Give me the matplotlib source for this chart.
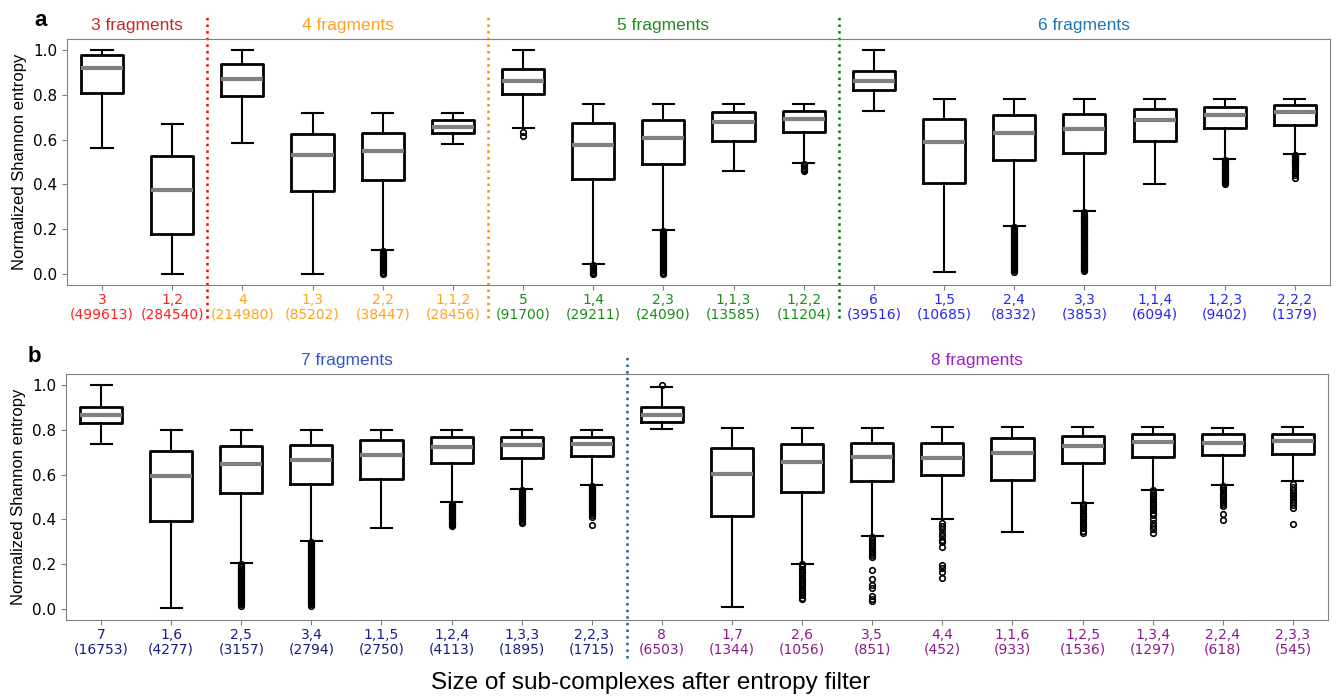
import matplotlib
matplotlib.use("Agg")
import matplotlib.pyplot as plt

# ---- panel a data: 3 to 6 fragments ----
labels_a = ["3", "1,2", "4", "1,3", "2,2", "1,1,2", "5", "1,4", "2,3", "1,1,3", "1,2,2",
            "6", "1,5", "2,4", "3,3", "1,1,4", "1,2,3", "2,2,2"]
counts_a = [499613, 284540, 214980, 85202, 38447, 28456, 91700, 29211, 24090, 13585, 11204,
            39516, 10685, 8332, 3853, 6094, 9402, 1379]
groups_a = [3, 3, 4, 4, 4, 4, 5, 5, 5, 5, 5, 6, 6, 6, 6, 6, 6, 6]
med_a = [0.92, 0.373, 0.870, 0.531, 0.550, 0.657, 0.861, 0.577, 0.608, 0.677, 0.693,
         0.861, 0.590, 0.629, 0.647, 0.686, 0.709, 0.723]
q1_a = [0.81, 0.177, 0.794, 0.371, 0.420, 0.629, 0.805, 0.422, 0.490, 0.593, 0.633,
        0.820, 0.405, 0.510, 0.540, 0.595, 0.654, 0.665]
q3_a = [0.98, 0.526, 0.937, 0.624, 0.630, 0.687, 0.915, 0.675, 0.689, 0.724, 0.730,
        0.906, 0.693, 0.709, 0.715, 0.739, 0.748, 0.753]
lo_a = [0.563, 0.0, 0.587, 0.0, 0.106, 0.581, 0.650, 0.042, 0.195, 0.460, 0.496,
        0.726, 0.006, 0.213, 0.279, 0.401, 0.514, 0.534]
hi_a = [1.0, 0.668, 1.0, 0.717, 0.717, 0.717, 1.0, 0.760, 0.760, 0.760, 0.760,
        1.0, 0.781, 0.781, 0.781, 0.781, 0.781, 0.781]
fliers_a = [
    [], [], [], [],
    [0.10, 0.095, 0.09, 0.085, 0.08, 0.075, 0.07, 0.065, 0.06, 0.055, 0.05, 0.045, 0.04,
     0.035, 0.03, 0.025, 0.02, 0.015, 0.01, 0.005, 0.0],
    [],
    [0.633, 0.615],
    [0.04, 0.035, 0.03, 0.025, 0.02, 0.015, 0.01, 0.005, 0.0],
    [0.19, 0.185, 0.18, 0.175, 0.17, 0.165, 0.16, 0.155, 0.15, 0.145, 0.14, 0.135, 0.13,
     0.125, 0.12, 0.115, 0.11, 0.105, 0.10, 0.095, 0.09, 0.085, 0.08, 0.075, 0.07, 0.065,
     0.06, 0.055, 0.05, 0.045, 0.04, 0.035, 0.03, 0.025, 0.02, 0.015, 0.01, 0.005, 0.0],
    [],
    [0.49, 0.485, 0.48, 0.475, 0.47, 0.465, 0.46],
    [],
    [],
    [0.21, 0.205, 0.20, 0.195, 0.19, 0.185, 0.18, 0.175, 0.17, 0.165, 0.16, 0.155, 0.15,
     0.145, 0.14, 0.135, 0.13, 0.125, 0.12, 0.115, 0.11, 0.105, 0.10, 0.095, 0.09, 0.085,
     0.08, 0.075, 0.07, 0.065, 0.06, 0.055, 0.05, 0.045, 0.04, 0.035, 0.03, 0.025, 0.02,
     0.015, 0.01],
    [0.275, 0.27, 0.265, 0.26, 0.255, 0.25, 0.245, 0.24, 0.235, 0.23, 0.225, 0.22, 0.215,
     0.21, 0.205, 0.20, 0.195, 0.19, 0.185, 0.18, 0.175, 0.17, 0.165, 0.16, 0.155, 0.15,
     0.145, 0.14, 0.135, 0.13, 0.125, 0.12, 0.115, 0.11, 0.105, 0.10, 0.095, 0.09, 0.085,
     0.08, 0.075, 0.07, 0.065, 0.06, 0.055, 0.05, 0.045, 0.04, 0.035, 0.03, 0.025, 0.02,
     0.015, 0.012],
    [],
    [0.51, 0.505, 0.50, 0.495, 0.49, 0.485, 0.48, 0.475, 0.47, 0.465, 0.46, 0.455, 0.45,
     0.445, 0.44, 0.435, 0.43, 0.425, 0.42, 0.415, 0.41, 0.405, 0.40],
    [0.53, 0.525, 0.52, 0.515, 0.51, 0.505, 0.50, 0.495, 0.49, 0.485, 0.48, 0.47, 0.46,
     0.45, 0.44, 0.43],
]

# ---- panel b data: 7 and 8 fragments ----
labels_b = ["7", "1,6", "2,5", "3,4", "1,1,5", "1,2,4", "1,3,3", "2,2,3",
            "8", "1,7", "2,6", "3,5", "4,4", "1,1,6", "1,2,5", "1,3,4", "2,2,4", "2,3,3"]
counts_b = [16753, 4277, 3157, 2794, 2750, 4113, 1895, 1715,
            6503, 1344, 1056, 851, 452, 933, 1536, 1297, 618, 545]
groups_b = [7] * 8 + [8] * 10
med_b = [0.866, 0.594, 0.648, 0.666, 0.688, 0.724, 0.734, 0.737,
         0.866, 0.602, 0.658, 0.681, 0.676, 0.698, 0.727, 0.744, 0.741, 0.749]
q1_b = [0.831, 0.391, 0.519, 0.560, 0.580, 0.651, 0.676, 0.684,
        0.835, 0.416, 0.522, 0.572, 0.599, 0.577, 0.652, 0.681, 0.689, 0.692]
q3_b = [0.903, 0.706, 0.728, 0.733, 0.755, 0.767, 0.770, 0.770,
        0.902, 0.718, 0.737, 0.741, 0.743, 0.762, 0.774, 0.780, 0.783, 0.782]
lo_b = [0.737, 0.006, 0.207, 0.303, 0.363, 0.480, 0.538, 0.556,
        0.805, 0.009, 0.201, 0.324, 0.403, 0.343, 0.474, 0.533, 0.554, 0.572]
hi_b = [1.0, 0.802, 0.802, 0.802, 0.802, 0.802, 0.802, 0.802,
        0.991, 0.808, 0.808, 0.811, 0.814, 0.814, 0.814, 0.814, 0.808, 0.814]
fliers_b = [
    [], [],
    [0.20, 0.195, 0.19, 0.185, 0.18, 0.175, 0.17, 0.165, 0.16, 0.155, 0.15, 0.145, 0.14,
     0.135, 0.13, 0.125, 0.12, 0.115, 0.11, 0.105, 0.10, 0.095, 0.09, 0.085, 0.08, 0.075,
     0.07, 0.065, 0.06, 0.055, 0.05, 0.045, 0.04, 0.035, 0.03, 0.025, 0.02, 0.012],
    [0.30, 0.295, 0.29, 0.285, 0.28, 0.275, 0.27, 0.265, 0.26, 0.255, 0.25, 0.245, 0.24,
     0.235, 0.23, 0.225, 0.22, 0.215, 0.21, 0.205, 0.20, 0.195, 0.19, 0.185, 0.18, 0.175,
     0.17, 0.165, 0.16, 0.155, 0.15, 0.145, 0.14, 0.135, 0.13, 0.125, 0.12, 0.115, 0.11,
     0.105, 0.10, 0.095, 0.09, 0.085, 0.08, 0.075, 0.07, 0.065, 0.06, 0.055, 0.05, 0.045,
     0.04, 0.035, 0.03, 0.025, 0.02, 0.012],
    [],
    [0.47, 0.465, 0.46, 0.455, 0.45, 0.445, 0.44, 0.435, 0.43, 0.425, 0.42, 0.415, 0.41,
     0.405, 0.40, 0.395, 0.39, 0.385, 0.38, 0.375, 0.37],
    [0.53, 0.525, 0.52, 0.515, 0.51, 0.505, 0.50, 0.495, 0.49, 0.485, 0.48, 0.475, 0.47,
     0.465, 0.46, 0.455, 0.45, 0.445, 0.44, 0.435, 0.43, 0.425, 0.42, 0.415, 0.41, 0.405,
     0.40, 0.395, 0.39, 0.385],
    [0.55, 0.545, 0.54, 0.535, 0.53, 0.525, 0.52, 0.515, 0.51, 0.505, 0.50, 0.495, 0.49,
     0.485, 0.48, 0.475, 0.47, 0.465, 0.46, 0.455, 0.45, 0.445, 0.44, 0.435, 0.43, 0.42,
     0.41, 0.375],
    [1.003],
    [],
    [0.20, 0.19, 0.18, 0.17, 0.16, 0.15, 0.14, 0.13, 0.12, 0.11, 0.10, 0.09, 0.08, 0.07,
     0.06, 0.05, 0.042],
    [0.32, 0.31, 0.30, 0.29, 0.28, 0.27, 0.26, 0.25, 0.24, 0.23, 0.175, 0.134, 0.107,
     0.092, 0.059, 0.042, 0.033],
    [0.383, 0.37, 0.355, 0.34, 0.325, 0.31, 0.297, 0.275, 0.196, 0.181, 0.166, 0.137],
    [],
    [0.47, 0.46, 0.45, 0.44, 0.43, 0.42, 0.41, 0.40, 0.39, 0.38, 0.37, 0.36, 0.35, 0.34],
    [0.53, 0.52, 0.51, 0.50, 0.49, 0.48, 0.47, 0.46, 0.45, 0.44, 0.43, 0.42, 0.40, 0.385,
     0.37, 0.355, 0.34],
    [0.55, 0.54, 0.53, 0.52, 0.51, 0.50, 0.49, 0.48, 0.47, 0.46, 0.426, 0.397],
    [0.557, 0.545, 0.53, 0.52, 0.51, 0.50, 0.49, 0.48, 0.465, 0.453, 0.379],
]

title_colors = {3: "#c62828", 4: "#ffa020", 5: "#228b22", 6: "#1f77b4",
                7: "#3355cc", 8: "#a020c8"}
tick_colors = {3: "#ff2020", 4: "#ffa31a", 5: "#1a8c1a", 6: "#2828f0",
               7: "#1a1a88", 8: "#8b1a8b"}
sep_colors = {3: "red", 4: "darkorange", 5: "green", 7: "#1f5f9f"}

fig = plt.figure(figsize=(13.36, 6.98), dpi=100)
ax_a = fig.add_axes([0.0501, 0.5917, 0.9454, 0.3524])
ax_b = fig.add_axes([0.0494, 0.1117, 0.9446, 0.3524])


def draw_panel(ax, labels, counts, groups, med, q1, q3, lo, hi, fliers, sep_ext, tsize):
    stats = []
    for i in range(len(labels)):
        stats.append(dict(med=med[i], q1=q1[i], q3=q3[i], whislo=lo[i], whishi=hi[i],
                          fliers=fliers[i], label=labels[i]))
    pos = list(range(1, len(labels) + 1))
    ax.bxp(stats, positions=pos, widths=0.6, showfliers=True,
           boxprops=dict(color="black", linewidth=2),
           whiskerprops=dict(color="black", linewidth=1.5),
           capprops=dict(color="black", linewidth=1.5),
           medianprops=dict(color="grey", linewidth=3),
           flierprops=dict(marker="o", markersize=4, markerfacecolor="none",
                           markeredgecolor="black", markeredgewidth=1.2))
    ax.set_xlim(0.5, len(labels) + 0.5)
    ax.set_ylim(-0.05, 1.05)
    ax.set_yticks([0.0, 0.2, 0.4, 0.6, 0.8, 1.0])
    ax.set_xticks(pos)
    ax.set_xticklabels([f"{l}\n({c})" for l, c in zip(labels, counts)],
                       fontsize=tsize, linespacing=1.05)
    for t, g in zip(ax.get_xticklabels(), groups):
        t.set_color(tick_colors[g])
    ax.tick_params(axis="y", labelsize=11, color="grey")
    ax.tick_params(axis="x", pad=2, color="grey")
    for s in ax.spines.values():
        s.set_color("grey")
    ax.set_ylabel("Normalized Shannon entropy", fontsize=12, family="Liberation Sans")

    # group separators and group titles
    uniq = sorted(set(groups))
    for g in uniq:
        idx = [i + 1 for i, gg in enumerate(groups) if gg == g]
        ax.text((idx[0] + idx[-1]) / 2, 1.025, f"{g} fragments", transform=ax.get_xaxis_transform(),
                ha="center", va="bottom", fontsize=12.5, color=title_colors[g],
                family="Liberation Sans")
        if g != uniq[-1]:
            ax.axvline(idx[-1] + 0.5, ymin=sep_ext[0], ymax=sep_ext[1], color=sep_colors[g],
                       linestyle=":", linewidth=1.8, clip_on=False)


draw_panel(ax_a, labels_a, counts_a, groups_a, med_a, q1_a, q3_a, lo_a, hi_a, fliers_a,
           (-0.134, 1.098), 10)
draw_panel(ax_b, labels_b, counts_b, groups_b, med_b, q1_b, q3_b, lo_b, hi_b, fliers_b,
           (-0.154, 1.077), 10)

fig.text(0.026, 0.985, "a", fontsize=16, fontweight="bold", family="Liberation Sans", va="top")
fig.text(0.021, 0.505, "b", fontsize=16, fontweight="bold", family="Liberation Sans", va="top")
fig.text(0.487, 0.021, "Size of sub-complexes after entropy filter", fontsize=17.5,
         family="Liberation Sans", ha="center", va="center")

fig.savefig("out.png", dpi=100)
